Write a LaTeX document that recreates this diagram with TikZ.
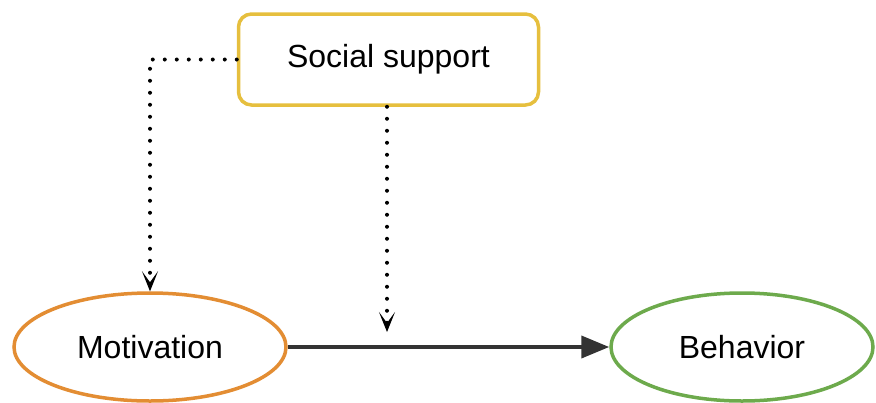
\documentclass[tikz,border=0pt]{standalone}
\usepackage{fontspec}
\setmainfont{Liberation Sans}
\usetikzlibrary{arrows.meta,shapes.geometric}
\definecolor{supportc}{HTML}{E6BF3E}
\definecolor{motivc}{HTML}{E38D33}
\definecolor{behavc}{HTML}{6DAA4C}
\definecolor{linec}{HTML}{333333}
\tikzset{
  box/.style={draw=supportc, line width=3.5pt, rounded corners=13pt, fill=white,
    minimum width=300pt, minimum height=91pt, font=\fontsize{32}{36}\selectfont},
  oval/.style={ellipse, line width=3.5pt, fill=white, minimum width=272pt,
    minimum height=108pt, inner sep=0pt, font=\fontsize{32}{36}\selectfont},
  dotline/.style={line width=4pt, line cap=round, dash pattern=on 0pt off 12pt,
    -{Stealth[length=20pt, width=16pt, inset=11pt, line width=1pt]}},
  mainline/.style={draw=linec, line width=4pt,
    -{Triangle[length=28pt, width=22pt]}}
}
\begin{document}
\begin{tikzpicture}[x=1pt,y=-1pt]
  \useasboundingbox (0,0) rectangle (876,402);
  \node[box] (support) at (388.5,59.5) {Social support};
  \node[oval, draw=motivc] (motiv) at (150,347) {Motivation};
  \node[oval, draw=behavc, minimum width=262pt] (behav) at (742,347) {Behavior};
  \coordinate (mod) at (387,332);
  % direct effect
  \draw[mainline] (motiv.east) -- (behav.west);
  % moderation paths
  \draw[dotline] (support.west) -| (motiv.north);
  \draw[dotline] (support.south -| mod) -- (mod);
\end{tikzpicture}
\end{document}
